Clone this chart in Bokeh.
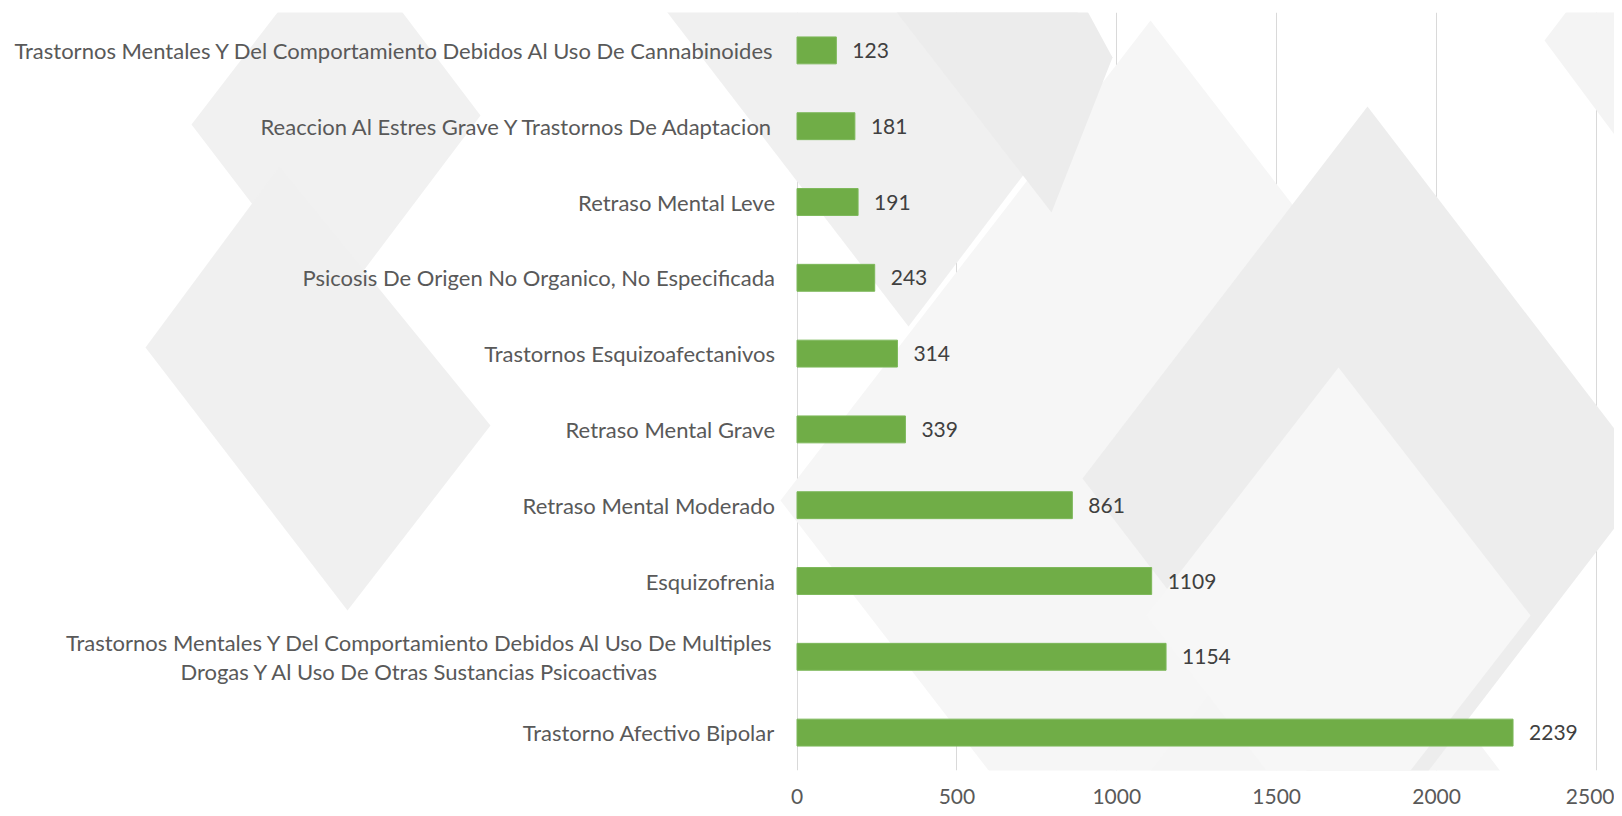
from bokeh.plotting import figure
from bokeh.models import ColumnDataSource, FactorRange, Range1d, FixedTicker, CustomJSTickFormatter
from bokeh.core.properties import value
from bokeh.embed import file_html
from bokeh.resources import INLINE

# ---- data (top to bottom as in the chart) ----
categories = [
    "Trastornos Mentales Y Del Comportamiento Debidos Al Uso De Cannabinoides",
    "Reaccion Al Estres Grave Y Trastornos De Adaptacion",
    "Retraso Mental Leve",
    "Psicosis De Origen No Organico, No Especificada",
    "Trastornos Esquizoafectanivos",
    "Retraso Mental Grave",
    "Retraso Mental Moderado",
    "Esquizofrenia",
    "Trastornos Mentales Y Del Comportamiento Debidos Al Uso De Multiples\nDrogas Y Al Uso De Otras Sustancias Psicoactivas",
    "Trastorno Afectivo Bipolar",
]
counts = [123, 181, 191, 243, 314, 339, 861, 1109, 1154, 2239]
x_ticks = [0, 500, 1000, 1500, 2000, 2500]
x_max = 2500

# ---- layout (pixels) ----
W, H = 1614, 814
TOP, BOTTOM = 12, 44
zero_px = 796.5          # canvas x of value 0
max_px = 1596.0          # canvas x of value 2500
upp = x_max / (max_px - zero_px)
x_start = -zero_px * upp
x_end = x_max + (W - max_px) * upp
n = len(categories)
frame_h = H - TOP - BOTTOM

FONT = "Lato"
LABEL_SIZE = "22px"
STANDOFF = 22

# labels drawn by the axis; the two-line one is drawn centred separately
multi = [c for c in categories if "\n" in c]

src = ColumnDataSource(dict(cat=categories, val=counts, lab=[str(v) for v in counts]))
msrc = ColumnDataSource(dict(cat=multi, zero=[0] * len(multi), txt=multi))

p = figure(
    width=W, height=H,
    y_range=FactorRange(factors=categories[::-1]),
    x_range=Range1d(x_start, x_end),
    output_backend="svg", toolbar_location=None,
    min_border_left=0, min_border_right=0,
    min_border_top=TOP, min_border_bottom=BOTTOM,
    background_fill_color="white", border_fill_color="white",
    outline_line_color=None,
)

# ---- decorative background diamonds (page pixel coordinates) ----
bg_shapes = [
    ("#f6f6f6", [(1150, 20), (1520, 500), (1150, 980), (780, 500)]),
    ("#f5f5f5", [(1325, 540), (1560, 850), (1325, 1160), (1090, 850)]),
    ("#f4f4f4", [(1544, 40), (1640, -86), (1830, 160), (1700, 250)]),
    ("#f0f0f0", [(650, -10), (854, -279), (1112, 57), (908, 326)]),
    ("#ececec", [(887, 0), (1000, -150), (1112, 57), (1051, 212)]),
    ("#f1f1f1", [(191, 124), (340, -70), (480, 115), (333, 310)]),
    ("#f0f0f0", [(145, 347), (279, 166), (490, 425), (347, 610)]),
    ("#ededed", [(1367, 106), (1652, 478), (1367, 850), (1082, 478)]),
    ("#f7f7f7", [(1338, 367), (1530, 615), (1338, 863), (1146, 615)]),
]
for col, pts in bg_shapes:
    xs = [x_start + px * upp for px, py in pts]
    ys = [n - (py - TOP) * n / frame_h for px, py in pts]
    p.patch(xs, ys, fill_color=col, line_color=None)

# ---- bars ----
p.hbar(y="cat", right="val", left=0, height=0.355, source=src,
       fill_color="#70ad47", line_color="#7db85a", line_width=1)

p.text(x="val", y="cat", text="lab", source=src, x_offset=16,
       text_baseline="middle", text_align="left",
       text_font=value(FONT), text_font_size="21px", text_color="#404040")

# centred two-line category label
p.text(x="zero", y="cat", text="txt", source=msrc, x_offset=-(STANDOFF + 355),
       text_baseline="middle", text_align="center", text_line_height=1.07,
       text_font=value(FONT), text_font_size=LABEL_SIZE, text_color="#595959")

# ---- grid ----
p.ygrid.visible = False
p.xgrid.ticker = FixedTicker(ticks=x_ticks)
p.xgrid.grid_line_color = "#d9d9d9"
p.xgrid.grid_line_width = 1

# ---- x axis ----
xa = p.xaxis[0]
xa.ticker = FixedTicker(ticks=x_ticks)
xa.axis_line_color = None
xa.major_tick_line_color = None
xa.minor_tick_line_color = None
xa.major_tick_out = 0
xa.major_tick_in = 0
xa.major_label_standoff = 18
xa.major_label_text_font = FONT
xa.major_label_text_font_size = "21px"
xa.major_label_text_color = "#595959"

# ---- y axis (category labels), placed at value 0 ----
ya = p.yaxis[0]
ya.fixed_location = 0
ya.axis_line_color = None
ya.major_tick_line_color = None
ya.minor_tick_line_color = None
ya.major_tick_out = 0
ya.major_tick_in = 0
ya.major_label_standoff = STANDOFF
ya.formatter = CustomJSTickFormatter(code="return String(tick).indexOf('\\n') >= 0 ? ' ' : String(tick);")
ya.major_label_text_font = FONT
ya.major_label_text_font_size = LABEL_SIZE
ya.major_label_text_color = "#595959"

open("out.html", "w").write(file_html(p, INLINE))
